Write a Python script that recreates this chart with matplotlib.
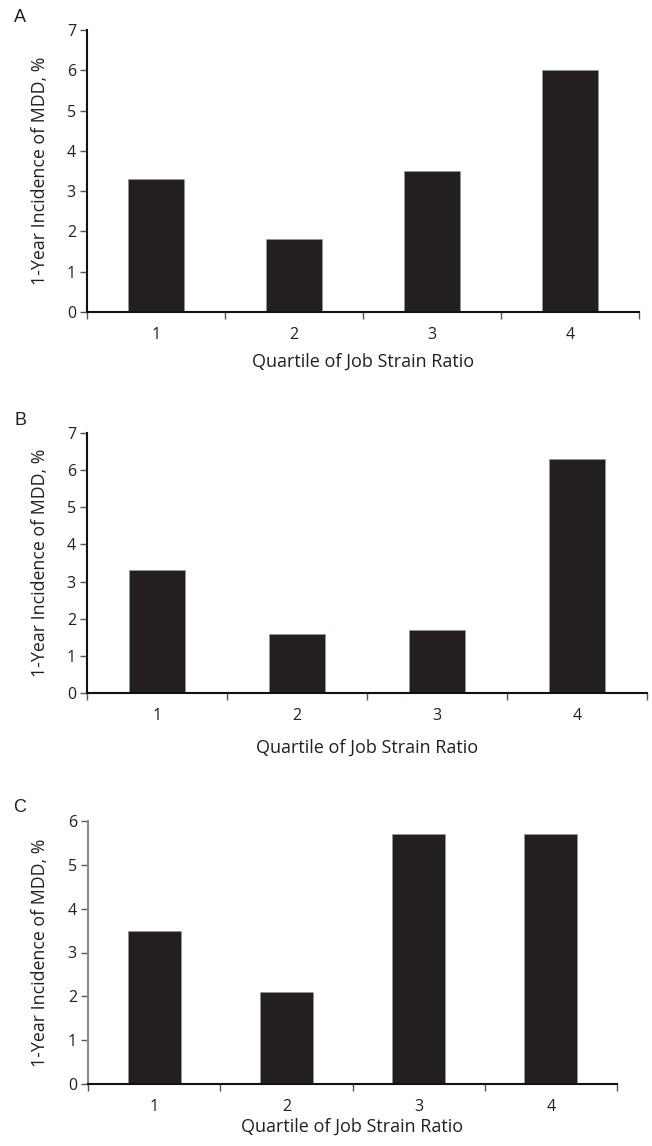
import matplotlib.pyplot as plt

# Datos
quartiles = ["1", "2", "3", "4"]
incidence_a = [3.3, 1.8, 3.5, 6.0]
incidence_b = [3.3, 1.6, 1.7, 6.3]
incidence_c = [3.5, 2.1, 5.7, 5.7]

panel_letters = ["A", "B", "C"]
y_max = [7, 7, 6]

W, H = 652, 1146
fig = plt.figure(figsize=(W / 100, H / 100), dpi=100)

# posiciones en píxeles: izquierda, derecha, arriba, abajo
boxes = [(87, 639, 30, 312), (87, 647, 433, 693), (88, 617, 821, 1084)]
xlabel_off = [50, 55, 43]   # distancia (px) del eje al centro del título x
series = [incidence_a, incidence_b, incidence_c]

txt = "#231f20"
font = "Open Sans"

for i, (l, r, t, b) in enumerate(boxes):
    w, h = r - l, b - t
    ax = fig.add_axes([l / W, (H - b) / H, w / W, h / H])
    x = list(range(1, len(quartiles) + 1))
    ax.bar(x, series[i], width=0.4, color="#231f20", edgecolor="#9a9a9a", linewidth=0.4)

    ax.set_xlim(0.5, 4.5)
    ax.set_ylim(0, y_max[i])
    ax.set_yticks(range(0, y_max[i] + 1))

    # ticks de categoría en los bordes, etiquetas en el centro
    ax.set_xticks([0.5, 1.5, 2.5, 3.5, 4.5])
    ax.set_xticklabels([])
    ax.set_xticks(x, minor=True)
    ax.set_xticklabels(quartiles, minor=True, fontsize=11.5, color=txt, family=font)
    ax.tick_params(axis="x", which="major", direction="out", length=5, width=1, color="#555555")
    ax.tick_params(axis="x", which="minor", length=0, pad=11)
    ax.tick_params(axis="y", direction="out", length=5, width=1, color="#555555",
                   labelsize=11.5, labelcolor=txt, pad=3)
    for lab in ax.get_yticklabels():
        lab.set_family(font)

    for s in ["top", "right"]:
        ax.spines[s].set_visible(False)
    ax.spines["bottom"].set_linewidth(1.5)
    ax.spines["bottom"].set_color("#111111")
    ax.spines["left"].set_linewidth(1.5)
    ax.spines["left"].set_color("#8a8a8a" if i == 2 else "#111111")

    ax.set_xlabel("Quartile of Job Strain Ratio", fontsize=13, color=txt, family=font, va="center")
    ax.xaxis.set_label_coords(0.5, -xlabel_off[i] / h)
    ax.set_ylabel("1-Year Incidence of MDD, %", fontsize=12.8, color=txt, family=font, va="center")
    ax.yaxis.set_label_coords(-(l - 40) / w, 0.5)

    fig.text(20 / W, 1 - (t - 13) / H, panel_letters[i], fontsize=13, color=txt,
             family="Liberation Sans", ha="center", va="center")

fig.savefig("out.png", dpi=100)
